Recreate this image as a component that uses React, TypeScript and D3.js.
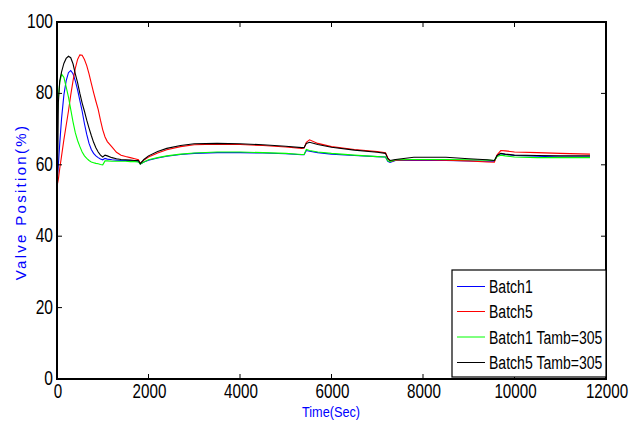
import React from 'react';
import * as d3 from 'd3';

// time axis (s), shared by every series
const times = [0, 30, 60, 100, 150, 200, 250, 300, 350, 400, 450, 500, 550, 600, 650, 700, 750, 800, 850, 900, 950, 1000, 1050, 1100, 1200, 1300, 1400, 1500, 1600, 1700, 1780, 1820, 1900, 2000, 2200, 2400, 2700, 3000, 3500, 4000, 4500, 5000, 5350, 5400, 5450, 5520, 5700, 6000, 6500, 7000, 7180, 7230, 7280, 7400, 7800, 8500, 9000, 9400, 9560, 9620, 9700, 9800, 10000, 10500, 11000, 11650];

const batch1 = [55, 60, 66, 73, 79.5, 83.5, 85.8, 86.4, 85.5, 83.5, 81, 78, 75, 71.5, 68.5, 66, 64.3, 63.2, 62.5, 62, 61.6, 61.4, 61.8, 61.6, 61.4, 61.3, 61.2, 61.2, 61.1, 61, 60.9, 60.2, 60.8, 61.3, 61.9, 62.4, 62.9, 63.2, 63.4, 63.4, 63.3, 63.1, 62.8, 62.8, 64.0, 63.8, 63.4, 63.0, 62.6, 62.3, 62.2, 61.0, 60.7, 61.2, 61.3, 61.2, 61.1, 61.0, 61.0, 62.6, 63.1, 62.9, 62.6, 62.4, 62.2, 62.2];
const batch5 = [54, 56, 59, 62.5, 67, 71, 75, 79.5, 83.5, 87, 89.5, 90.8, 90.7, 89.5, 87.8, 85.5, 82.8, 80.2, 77.8, 75.5, 72.5, 69.8, 67.8, 66.5, 65, 63.5, 62.7, 62.3, 62, 61.7, 61.4, 60.4, 61.3, 62.2, 63.3, 64.2, 65.1, 65.6, 65.8, 65.7, 65.4, 65, 64.6, 64.7, 66.3, 67, 66, 65.1, 64.3, 63.7, 63.4, 62, 60.9, 61.3, 61.4, 61.3, 61.1, 60.8, 60.7, 62.8, 64, 63.9, 63.6, 63.4, 63.2, 63.0];
const batch1T305 = [72, 79, 83, 85.4, 84.5, 81.8, 79, 75.5, 72, 69, 66.8, 65.1, 63.6, 62.5, 61.8, 61.2, 60.8, 60.6, 60.4, 60.3, 60.1, 60.0, 61.1, 61.1, 61.0, 61, 61, 61, 60.9, 60.9, 60.8, 60.2, 60.8, 61.4, 62.0, 62.5, 63.0, 63.3, 63.6, 63.6, 63.4, 63.2, 62.9, 62.9, 64.3, 64.0, 63.6, 63.2, 62.7, 62.3, 62.2, 61.1, 60.9, 61.4, 61.5, 61.5, 61.4, 61.3, 61.2, 62.3, 62.7, 62.5, 62.2, 62.0, 62.0, 62.0];
const batch5T305 = [42.5, 77.5, 83.5, 86, 88.4, 89.8, 90.4, 90, 88.3, 85.5, 83, 80, 77.3, 75, 72.5, 70.3, 68.2, 66.3, 64.8, 63.6, 62.7, 62.2, 62.7, 62.5, 62.0, 61.7, 61.5, 61.4, 61.3, 61.2, 61.2, 60.3, 61.5, 62.5, 63.7, 64.6, 65.4, 65.9, 66.0, 65.9, 65.6, 65.2, 64.8, 64.8, 66.0, 66.3, 65.7, 64.9, 64.1, 63.5, 63.2, 61.8, 61.2, 61.5, 62.1, 62.1, 61.7, 61.4, 61.2, 62.6, 63.2, 63.0, 62.7, 62.6, 62.5, 62.5];

const seriesNames = ['Batch1', 'Batch5', 'Batch1 Tamb=305', 'Batch5 Tamb=305'];
const seriesValues = [batch1, batch5, batch1T305, batch5T305];
const seriesColors = ['#0000ff', '#ff0000', '#00ff00', '#000000'];

const xTicks = [0, 2000, 4000, 6000, 8000, 10000, 12000];
const yTicks = [0, 20, 40, 60, 80, 100];

const FONT = 'Liberation Sans, Arial, sans-serif';

// condensed text like the original figure
const Narrow = ({ x, y, anchor = 'start', size = 19, sx = 0.74, fill = '#000', children }: any) => (
  <text
    transform={`translate(${x},${y}) scale(${sx},1)`}
    textAnchor={anchor}
    fontFamily={FONT}
    fontSize={size}
    fill={fill}
  >
    {children}
  </text>
);

export default function App() {
  const width = 630;
  const height = 421;
  const left = 57, right = 606, top = 22, bottom = 379;

  const x = d3.scaleLinear().domain([0, 12000]).range([left, right]);
  const y = d3.scaleLinear().domain([0, 100]).range([bottom, top]);

  const line = d3.line<number>()
    .x((_, i) => x(times[i]))
    .y(d => y(d));

  const legX = 452, legY = 270, legW = right - legX, legH = 107;
  const rowY = [286.5, 311.5, 337, 362.5];

  return (
    <svg width={width} height={height} style={{ position: 'absolute', left: 0, top: 0, background: '#fff' }}>
      <rect x={0} y={0} width={width} height={height} fill="#fff" />
      {seriesValues.map((vals, i) => (
        <path key={i} d={line(vals) || ''} fill="none" stroke={seriesColors[i]} strokeWidth={1.1} />
      ))}

      {/* frame */}
      <rect x={left} y={top} width={right - left} height={bottom - top} fill="none" stroke="#000" strokeWidth={2} />

      {xTicks.map(t => (
        <g key={'x' + t}>
          <line x1={x(t)} x2={x(t)} y1={bottom} y2={bottom - 5} stroke="#000" strokeWidth={1} />
          <line x1={x(t)} x2={x(t)} y1={top} y2={top + 5} stroke="#000" strokeWidth={1} />
          <Narrow x={x(t) + 1} y={397.5} anchor="middle" size={20} sx={0.76}>{t}</Narrow>
        </g>
      ))}
      {yTicks.map(t => (
        <g key={'y' + t}>
          <line x1={left} x2={left + 5} y1={y(t)} y2={y(t)} stroke="#000" strokeWidth={1} />
          <line x1={right} x2={right - 5} y1={y(t)} y2={y(t)} stroke="#000" strokeWidth={1} />
          <Narrow x={left - 4} y={y(t) + 6} anchor="end" size={20} sx={0.78}>{t}</Narrow>
        </g>
      ))}

      <Narrow x={331} y={416.5} anchor="middle" size={15.5} sx={0.82} fill="#0000ff">Time(Sec)</Narrow>
      <text
        transform={`translate(26,202) rotate(-90)`}
        textAnchor="middle"
        fontFamily={FONT}
        fontSize={15}
        letterSpacing={2.3}
        fill="#0000ff"
      >
        Valve Position(%)
      </text>

      {/* legend */}
      <rect x={legX} y={legY} width={legW} height={legH} fill="#fff" stroke="#000" strokeWidth={1.2} />
      {seriesNames.map((n, i) => (
        <g key={n}>
          <line x1={457} x2={485} y1={rowY[i]} y2={rowY[i]} stroke={seriesColors[i]} strokeWidth={1} />
          <Narrow x={489} y={rowY[i] + 6.5}>{n}</Narrow>
        </g>
      ))}
    </svg>
  );
}
